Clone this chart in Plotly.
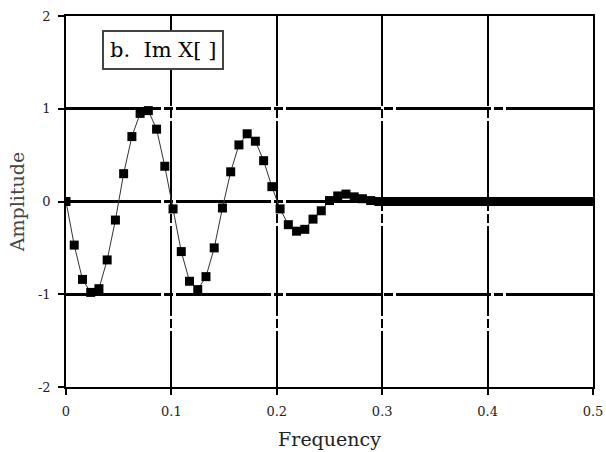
import plotly.graph_objects as go

# 128-point DFT, imaginary part, samples 0..64 (frequency = k/128)
freq = [k / 128 for k in range(65)]
im_x = [
    0.00, -0.47, -0.84, -0.98, -0.94, -0.63, -0.20, 0.30, 0.70, 0.95,
    0.98, 0.78, 0.38, -0.08, -0.54, -0.86, -0.95, -0.81, -0.50, -0.07,
    0.32, 0.61, 0.73, 0.65, 0.44, 0.16, -0.08, -0.25, -0.32, -0.30,
    -0.19, -0.10, 0.01, 0.06, 0.08, 0.05, 0.03, 0.01, 0.00, 0.00,
    0.00, 0.00, 0.00, 0.00, 0.00, 0.00, 0.00, 0.00, 0.00, 0.00,
    0.00, 0.00, 0.00, 0.00, 0.00, 0.00, 0.00, 0.00, 0.00, 0.00,
    0.00, 0.00, 0.00, 0.00, 0.00,
]
x_ticks = [0, 0.1, 0.2, 0.3, 0.4, 0.5]
x_labels = ["0", "0.1", "0.2", "0.3", "0.4", "0.5"]
y_ticks = [-2, -1, 0, 1, 2]
y_labels = ["-2", "-1", "0", "1", "2"]

serif = "DejaVu Serif, serif"

fig = go.Figure()
fig.add_trace(go.Scatter(
    x=freq, y=im_x,
    mode="lines+markers",
    line=dict(color="#333", width=1),
    marker=dict(symbol="square", size=9, color="black"),
    showlegend=False,
))

fig.add_annotation(
    x=0.092, y=1.63, xref="x", yref="y",
    text="b.&nbsp;&nbsp;Im X[ ]", showarrow=False,
    font=dict(family=serif, size=21, color="black"),
    bgcolor="white", bordercolor="#444", borderwidth=2, borderpad=6,
)

fig.update_xaxes(
    range=[0, 0.5], tickvals=x_ticks, ticktext=x_labels,
    showline=True, mirror=True, linecolor="black", linewidth=1.5,
    ticks="outside", ticklen=6, tickcolor="black", tickwidth=1.5,
    showgrid=True, gridcolor="black", gridwidth=2,
    griddash="90px,3px,9px,3px", zeroline=False, automargin=False,
    ticklabelstandoff=6,
    title=dict(text="Frequency", font=dict(family=serif, size=19, color="#222"), standoff=14),
    tickfont=dict(family=serif, size=13, color="#222"),
)
fig.update_yaxes(
    range=[-2, 2], tickvals=y_ticks, ticktext=y_labels,
    showline=True, mirror=True, linecolor="black", linewidth=1.5,
    ticks="outside", ticklen=6, tickcolor="black", tickwidth=1.5,
    showgrid=True, gridcolor="black", gridwidth=3,
    griddash="95px,3px,9px,3px", zeroline=False, automargin=False,
    ticklabelstandoff=5,
    title=dict(text="Amplitude", font=dict(family=serif, size=19, color="#444"), standoff=8),
    tickfont=dict(family=serif, size=13, color="#222"),
)

fig.update_layout(
    width=606, height=452,
    margin=dict(l=66, r=13, t=16, b=65),
    plot_bgcolor="white", paper_bgcolor="white",
)

# drop the default 8px body margin so the figure fills the window
fig.write_html(
    "out.html",
    config={"displayModeBar": False},
    post_script="document.body.style.margin='0';document.body.style.overflow='hidden';",
)
